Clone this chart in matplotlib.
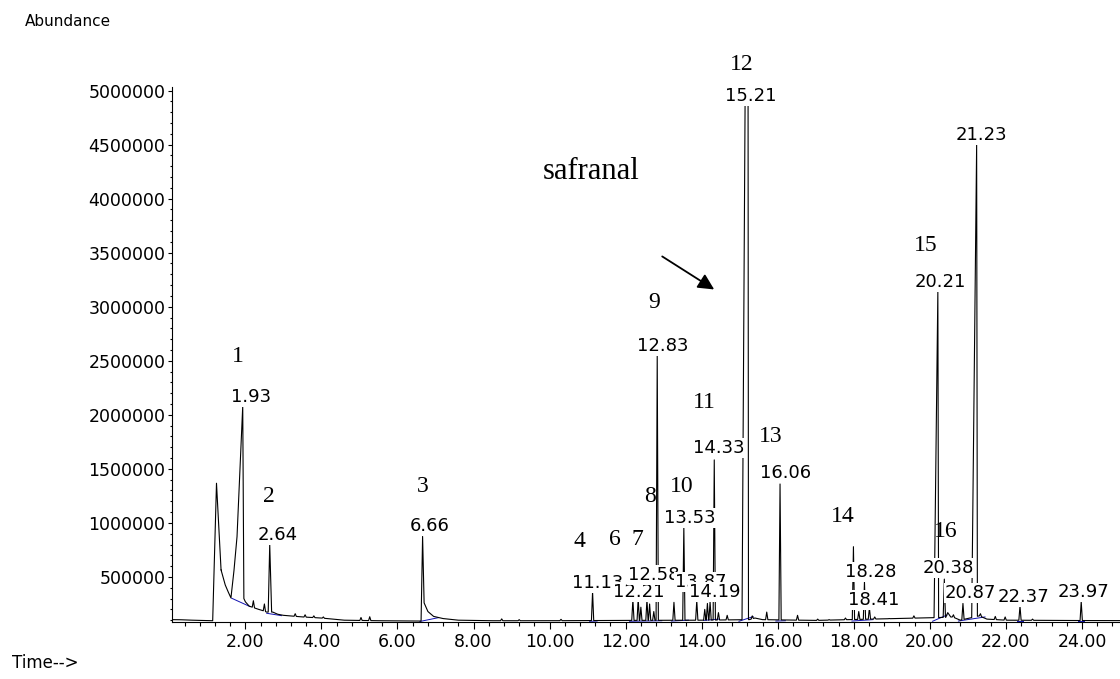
"""GC-MS total ion chromatogram of a saffron extract (safranal marked)."""

import matplotlib

matplotlib.use("Agg")
import matplotlib.pyplot as plt
import numpy as np
from matplotlib.ticker import FuncFormatter, MultipleLocator

# peaks: retention time (min) and apex abundance
PEAK_RT = [1.24, 1.93, 2.21, 2.50, 2.64, 3.31, 3.57, 3.80, 4.05, 5.04, 5.27, 6.66,
           8.74, 9.20, 10.30, 11.13, 12.19, 12.33, 12.40, 12.56, 12.63, 12.74, 12.83,
           13.27, 13.53, 13.87, 14.08, 14.15, 14.22, 14.33, 14.44, 14.67, 15.21, 15.33,
           15.71, 16.06, 16.52, 17.05, 17.35, 17.78, 17.99, 18.13, 18.28, 18.41, 18.55,
           18.93, 19.58, 19.75, 20.21, 20.38, 20.47, 20.62, 20.87, 21.23, 21.33, 21.72,
           21.98, 22.37, 22.70, 23.98]
PEAK_TOP = [1367000, 2080000, 280000, 250000, 800000, 160000, 150000, 140000, 130000,
            125000, 132000, 875000, 112000, 105000, 108000, 364000, 290000, 300000,
            220000, 290000, 250000, 180000, 2550000, 265000, 965000, 280000, 200000,
            255000, 270000, 1583000, 170000, 145000, 9000000, 140000, 175000, 1360000,
            145000, 110000, 105000, 120000, 780000, 180000, 455000, 215000, 130000,
            115000, 140000, 120000, 3140000, 480000, 170000, 150000, 255000, 4500000,
            160000, 135000, 130000, 230000, 110000, 272000]
# foot widths (min) of the broad / fronting peaks; the rest use PEAK_W
PEAK_W = 0.03
WIDE_PEAKS = {1.24: (0.10, 0.12), 1.93: (0.15, 0.03), 2.64: (0.04, 0.05),
              6.66: (0.04, 0.04), 15.21: (0.15, 0.02), 20.21: (0.10, 0.02),
              20.47: (0.05, 0.08), 21.23: (0.13, 0.02)}

# baseline (solvent tail, drift, leading shoulder of 1.93) between the peaks
BASE_T = [0.05, 0.30, 0.60, 1.10, 1.14, 1.36, 1.47, 1.55, 1.62, 1.70, 1.78, 1.96, 2.00,
          2.10, 2.35, 2.45, 2.56, 2.72, 2.85, 3.00, 3.50, 4.00, 4.30, 4.60, 5.50, 6.50,
          6.62, 6.70, 6.80, 6.95, 7.20, 7.60, 8.50, 10.00, 12.00, 14.00, 15.25, 15.40,
          15.60, 17.00, 20.30, 20.60, 20.80, 21.30, 21.50, 22.00, 24.50, 25.00]
BASE_Y = [105000, 104000, 100000, 95000, 95000, 565000, 426000, 360000, 306000, 560000,
          873000, 300000, 270000, 230000, 200000, 190000, 175000, 175000, 155000, 145000,
          130000, 120000, 110000, 100000, 95000, 92000, 92000, 260000, 180000, 135000,
          115000, 100000, 95000, 95000, 98000, 100000, 105000, 120000, 105000, 98000,
          125000, 130000, 100000, 140000, 110000, 100000, 96000, 96000]

# integration baselines (blue)
BLUE_T0 = [1.64, 2.56, 6.59, 11.05, 12.10, 13.20, 14.05, 14.98, 15.95, 17.95, 20.07, 20.75, 22.30, 23.90]
BLUE_Y0 = [303000, 164000, 88000, 90000, 90000, 92000, 98000, 90000, 92000, 92000, 90000, 92000, 92000, 92000]
BLUE_T1 = [2.12, 2.95, 7.07, 11.25, 12.95, 13.65, 14.45, 15.35, 16.20, 18.50, 20.45, 21.45, 22.45, 24.05]
BLUE_Y1 = [226000, 142000, 123000, 92000, 95000, 100000, 110000, 133000, 95000, 105000, 148000, 130000, 92000, 92000]

# retention-time labels placed by the integrator
LABEL_TEXT = ["1.93", "2.64", "6.66", "11.13", "12.21", "12.58", "12.83", "13.53", "13.87",
              "14.19", "14.33", "15.21", "16.06", "18.28", "18.41", "20.21", "20.38",
              "20.87", "21.23", "22.37", "23.97"]
LABEL_T = [2.16, 2.85, 6.85, 11.27, 12.34, 12.74, 12.97, 13.68, 13.97, 14.33, 14.46,
           15.29, 16.21, 18.44, 18.53, 20.28, 20.49, 21.07, 21.36, 22.46, 24.04]
LABEL_Y = [2168000, 889000, 972000, 444000, 364000, 518000, 2637000, 1043000, 456000,
           364000, 1691000, 4951000, 1460000, 549000, 287000, 3230000, 580000, 349000,
           4590000, 318000, 364000]

# compound numbers written on the figure
NUM_TEXT = ["1", "2", "3", "4", "6", "7", "8", "9", "10", "11", "12", "13", "14", "15", "16"]
NUM_T = [1.81, 2.61, 6.67, 10.79, 11.71, 12.32, 12.63, 12.74, 13.47, 14.08, 15.05, 15.81,
         17.71, 19.89, 20.41]
NUM_Y = [2536000, 1240000, 1333000, 824000, 843000, 843000, 1240000, 3035000, 1333000,
         2110000, 5237000, 1795000, 1055000, 3563000, 916000]


def build_trace():
    """Join baseline knots and triangular peaks into one sorted polyline."""
    spans, pts = [], []
    for rt, top in zip(PEAK_RT, PEAK_TOP):
        wl, wr = WIDE_PEAKS.get(rt, (PEAK_W, PEAK_W))
        t0, t1 = rt - wl, rt + wr
        spans.append((t0, t1))
        pts += [(t0, np.interp(t0, BASE_T, BASE_Y)), (rt, top), (t1, np.interp(t1, BASE_T, BASE_Y))]
    for t, y in zip(BASE_T, BASE_Y):
        if not any(a < t < b for a, b in spans):
            pts.append((t, y))
    pts.sort(key=lambda p: p[0])
    return np.array(pts).T


fig = plt.figure(figsize=(11.2, 6.79), dpi=100)
ax = fig.add_axes([172 / 1120, 1 - 621.7 / 679, 1 - 172 / 1120, (621.7 - 87.3) / 679])

t, y = build_trace()
ax.plot(t, y, color="black", lw=0.8, zorder=2)
for t0, y0, t1, y1 in zip(BLUE_T0, BLUE_Y0, BLUE_T1, BLUE_Y1):
    ax.plot([t0, t1], [y0, y1], color="#1010b0", lw=0.7, zorder=1.5)

ax.set_xlim(0.07, 25.0)
ax.set_ylim(86000, 5030000)
for side in ("top", "right"):
    ax.spines[side].set_visible(False)
for side in ("left", "bottom"):
    ax.spines[side].set_linewidth(0.8)

ax.xaxis.set_major_locator(MultipleLocator(2))
ax.xaxis.set_minor_locator(MultipleLocator(0.4))
ax.xaxis.set_major_formatter(FuncFormatter(lambda v, _: f"{v:.2f}"))
ax.yaxis.set_major_locator(MultipleLocator(500000))
ax.yaxis.set_minor_locator(MultipleLocator(100000))
ax.yaxis.set_major_formatter(FuncFormatter(lambda v, _: f"{int(round(v))}"))
ax.tick_params(axis="x", which="major", length=5, width=0.8, pad=3.3, labelsize=12.5)
ax.tick_params(axis="x", which="minor", length=3, width=0.8)
ax.tick_params(axis="y", which="major", length=3, width=0.8, pad=1.7, labelsize=12.5)
ax.tick_params(axis="y", which="minor", length=1.5, width=0.8)

for i, (txt, lt, ly) in enumerate(zip(LABEL_TEXT, LABEL_T, LABEL_Y)):
    ax.text(lt, ly, txt, ha="center", va="center", fontsize=13, zorder=3 + 0.01 * i,
            bbox=dict(boxstyle="square,pad=0.05", fc="white", ec="none"))

for txt, nt, ny in zip(NUM_TEXT, NUM_T, NUM_Y):
    ax.text(nt, ny, txt, ha="center", va="center", fontsize=17,
            family="Liberation Serif", zorder=4, clip_on=False)

ax.text(11.08, 4247000, "safranal", ha="center", va="center", fontsize=22,
        family="Liberation Serif", zorder=4)
ax.annotate("", xy=(14.39, 3146000), xytext=(12.90, 3479000), zorder=4,
            arrowprops=dict(arrowstyle="-|>", color="black", lw=1.3, mutation_scale=24))

fig.text(25 / 1120, 1 - 22 / 679, "Abundance", ha="left", va="center", fontsize=11)
fig.text(12 / 1120, 1 - 663 / 679, "Time-->", ha="left", va="center", fontsize=12)

fig.savefig("out.png", dpi=100)
